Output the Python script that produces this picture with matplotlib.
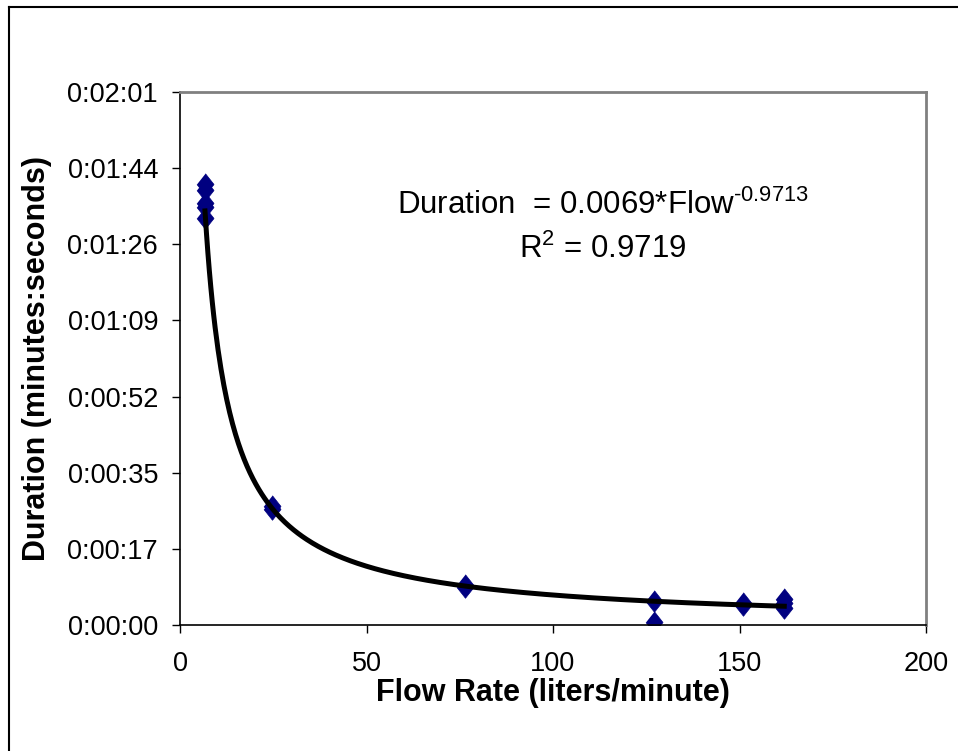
import numpy as np
import matplotlib.pyplot as plt
from matplotlib.lines import Line2D
from matplotlib.ticker import FuncFormatter, MultipleLocator

plt.rcParams['font.family'] = ['Liberation Sans', 'DejaVu Sans']
plt.rcParams['mathtext.fontset'] = 'custom'
plt.rcParams['mathtext.rm'] = 'Liberation Sans'

# measured flow rates (liters/minute) and durations (seconds)
flow = [6.7, 6.7, 6.7, 6.7, 6.7, 24.7, 24.7, 76.5, 76.5, 127, 127, 151, 151, 162, 162, 162]
duration = [100.0, 98.8, 95.8, 94.9, 92.4, 27.0, 26.3, 9.1, 8.6, 5.4, 0.6, 4.9, 4.6, 6.0, 5.0, 3.9]

# power trendline fitted in Excel (duration in days)
coef = 0.0069
expo = -0.9713
r2 = 0.9719

fig = plt.figure(figsize=(9.58, 7.51), dpi=100)
ax = fig.add_axes([180 / 958, 126 / 751, 746 / 958, 533 / 751])

xs = np.linspace(min(flow), max(flow), 400)
ax.plot(xs, coef * xs ** expo * 86400, color='black', lw=3.6, zorder=3)

diamond = [(0, 1), (0.79, 0), (0, -1), (-0.79, 0)]
ax.scatter(flow, duration, marker=diamond, s=15.5 ** 2, color='#000080',
           edgecolors='#000080', linewidths=0.5, zorder=2)

ax.set_xlim(0, 200)
ax.set_ylim(0, 6 * 20.16)
ax.xaxis.set_major_locator(MultipleLocator(50))
ax.yaxis.set_major_locator(MultipleLocator(17.28))


def hms(v, pos):
    s = int(round(v))
    return '%d:%02d:%02d' % (s // 3600, (s // 60) % 60, s % 60)


ax.yaxis.set_major_formatter(FuncFormatter(hms))
ax.tick_params(direction='out', length=5.8, width=1, labelsize=19.5, colors='black')
ax.tick_params(axis='y', pad=10)
ax.tick_params(axis='x', pad=13)

for side in ['left', 'bottom']:
    ax.spines[side].set_color('black')
    ax.spines[side].set_linewidth(1.2)
for side in ['top', 'right']:
    ax.spines[side].set_color('#808080')
    ax.spines[side].set_linewidth(2)

ax.set_xlabel('Flow Rate (liters/minute)', fontsize=22, fontweight='bold', va='center')
ax.xaxis.set_label_coords(0.5, (625 - 693) / 533)
ax.set_ylabel('Duration (minutes:seconds)', fontsize=22, fontweight='bold', va='center')
ax.yaxis.set_label_coords((37 - 180) / 746, 0.5)

ax.text(0.567, 0.787, 'Duration  = %.4f*Flow$^{\\text{%.4f}}$' % (coef, expo),
        transform=ax.transAxes, ha='center', va='center', fontsize=22.5)
ax.text(0.567, 0.705, 'R$^{\\text{2}}$ = %.4f' % r2, transform=ax.transAxes,
        ha='center', va='center', fontsize=22.5)

# chart area border (cut at the right and bottom)
fig.add_artist(Line2D([9 / 958, 1], [1 - 7 / 751, 1 - 7 / 751], color='black', lw=1.5))
fig.add_artist(Line2D([9 / 958, 9 / 958], [0, 1 - 7 / 751], color='black', lw=1.5))

fig.savefig('out.png', dpi=100)
